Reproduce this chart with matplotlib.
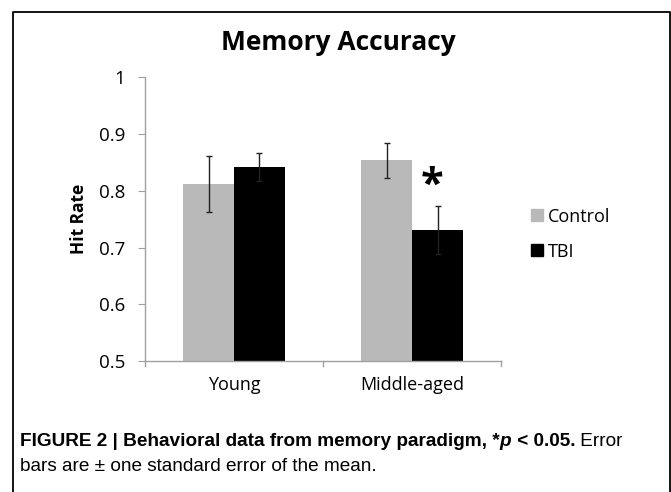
import numpy as np
import matplotlib.pyplot as plt
from matplotlib.lines import Line2D

groups = ["Young", "Middle-aged"]
series = ["Control", "TBI"]
hit_rate = {"Control": [0.812, 0.854], "TBI": [0.842, 0.731]}
std_err = {"Control": [0.050, 0.031], "TBI": [0.025, 0.043]}
colors = {"Control": "#b9b9b9", "TBI": "#000000"}
yticks = [0.5, 0.6, 0.7, 0.8, 0.9, 1.0]
ytick_labels = ["0.5", "0.6", "0.7", "0.8", "0.9", "1"]

chart_font = ["Open Sans", "DejaVu Sans"]
caption_font = ["Liberation Sans", "DejaVu Sans"]

fig = plt.figure(figsize=(6.71, 4.92), dpi=100)
ax = fig.add_axes([0.216, 0.266, 0.531, 0.577])

x = np.arange(len(groups))
w = 0.286
for i, s in enumerate(series):
    pos = x + (i - 0.5) * w
    ax.bar(pos, hit_rate[s], width=w, color=colors[s], label=s, zorder=2)
    ax.errorbar(pos, hit_rate[s], yerr=std_err[s], fmt="none", ecolor="#222222",
                elinewidth=1.0, capsize=2.5, capthick=1.0, zorder=3)

# significance marker over middle-aged TBI
ax.text(x[1] + 0.5 * w - 0.03, 0.808, "*", ha="center", va="center",
        fontsize=30, fontweight="bold", family=chart_font)

ax.set_ylim(0.5, 1.0)
ax.set_xlim(-0.5, 1.5)
ax.set_yticks(yticks)
ax.set_yticklabels(ytick_labels, family=chart_font, fontsize=13.5)
ax.set_xticks(x)
ax.set_xticklabels(groups, family=chart_font, fontsize=13)
ax.tick_params(axis="x", length=0, pad=11)
ax.tick_params(axis="y", length=5, color="#a0a0a0", direction="out", pad=9)
# category boundary ticks on x axis
for b in [-0.5, 0.5, 1.5]:
    ax.plot([b, b], [0.5, 0.491], color="#a0a0a0", lw=1, clip_on=False)
for side in ["top", "right"]:
    ax.spines[side].set_visible(False)
for side in ["left", "bottom"]:
    ax.spines[side].set_color("#a0a0a0")
    ax.spines[side].set_linewidth(1)
ax.set_ylabel("Hit Rate", family=chart_font, fontsize=12.5, fontweight="bold", labelpad=8)

fig.text(0.505, 0.914, "Memory Accuracy", ha="center", va="center",
         family=chart_font, fontsize=19, fontweight="bold")

handles = [Line2D([], [], marker="s", ls="none", color=colors[s], markersize=8.5) for s in series]
fig.legend(handles, series, loc="center left", bbox_to_anchor=(0.768, 0.524), frameon=False,
           handlelength=0.6, handletextpad=0.3, labelspacing=0.95, prop={"family": chart_font, "size": 13})

# outer frame (left, top, right)
fig.add_artist(Line2D([0.0195, 0.0195, 0.9985, 0.9985], [0.0, 0.975, 0.975, 0.0],
                      transform=fig.transFigure, color="black", lw=1.3))

# caption with mixed weights
cap = 13.7
t1 = fig.text(0.030, 0.094, "FIGURE 2 | Behavioral data from memory paradigm, *",
              family=caption_font, fontsize=cap, fontweight="bold", va="baseline")
t2 = ax.annotate("p", xy=(1, 0), xycoords=t1, va="bottom", ha="left",
                 family=caption_font, fontsize=cap, fontweight="bold", style="italic",
                 annotation_clip=False)
t3 = ax.annotate(" < 0.05.", xy=(1, 0), xycoords=t2, va="bottom", ha="left",
                 family=caption_font, fontsize=cap, fontweight="bold", annotation_clip=False)
ax.annotate(" Error", xy=(1, 0), xycoords=t3, va="bottom", ha="left",
            family=caption_font, fontsize=cap, annotation_clip=False)
fig.text(0.030, 0.042, "bars are \u00b1 one standard error of the mean.",
         family=caption_font, fontsize=cap, va="baseline")

fig.savefig("out.png", dpi=100)
